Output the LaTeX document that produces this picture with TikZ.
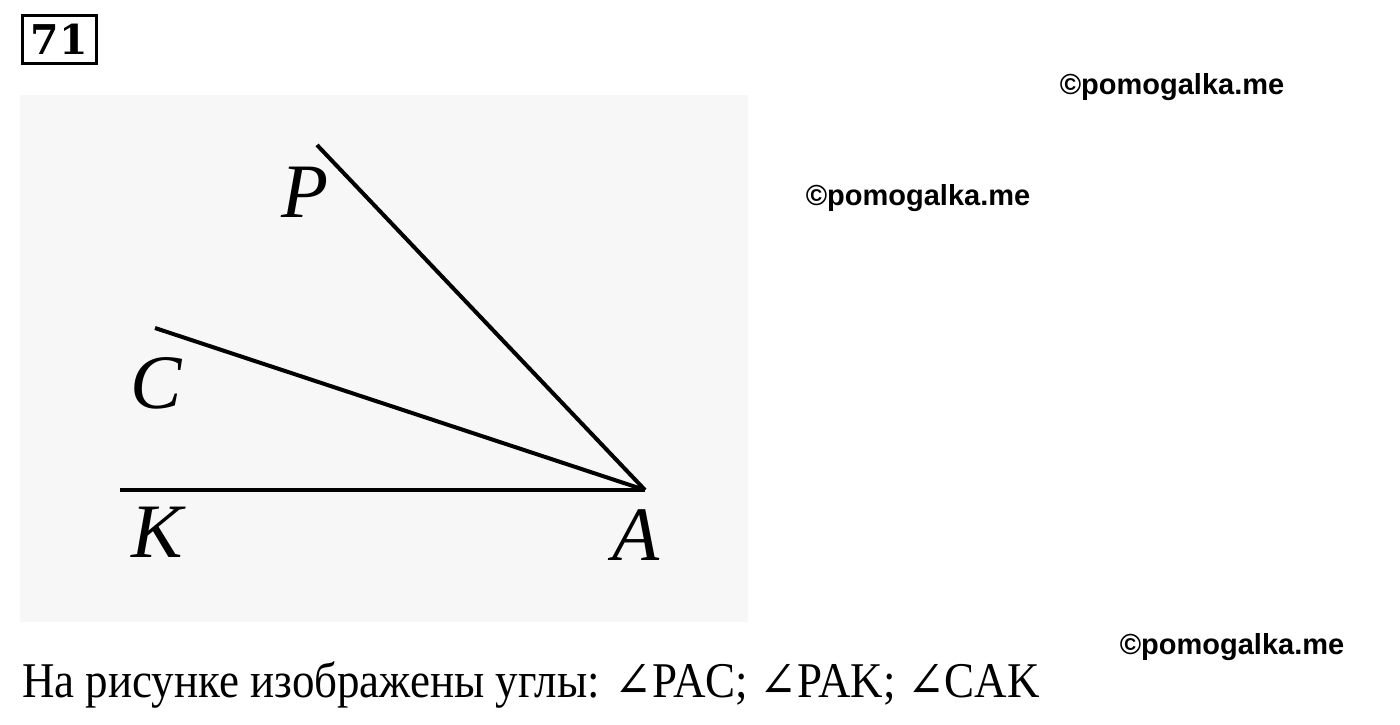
\documentclass[tikz,border=0pt]{standalone}
\usepackage{fontspec}
\setmainfont{Liberation Serif}
\newfontfamily\wmfont{Liberation Sans}
\newfontfamily\capfont[FakeStretch=0.9]{Liberation Serif}
\newfontfamily\angfont[FakeStretch=0.9]{DejaVu Serif}
\newfontfamily\numfont{DejaVu Serif}
\newcommand{\myang}{{\angfont ∠}}
\definecolor{bgray}{HTML}{F7F7F7}
\tikzset{
  ray/.style={line width=4pt, line cap=butt},
  ptlabel/.style={anchor=base, inner sep=0pt, font=\fontsize{77}{77}\selectfont\itshape},
  wmark/.style={anchor=base, inner sep=0pt, font=\fontsize{29}{29}\selectfont\wmfont\bfseries},
}
\begin{document}
\begin{tikzpicture}[x=1pt,y=-1pt]
\useasboundingbox (0,0) rectangle (1400,725);
\fill[white] (0,0) rectangle (1400,725);
\fill[bgray] (20,95) rectangle (748,622);
% number box
\draw[line width=3pt] (22,15.5) rectangle (96,64);
\node[anchor=base, inner sep=0pt, font=\fontsize{41}{41}\selectfont\numfont\bfseries] (num) at (59,55) {71};
% points
\coordinate (A) at (645,490);
\coordinate (P) at (317,145);
\coordinate (C) at (155,328);
\coordinate (K) at (120,490);
\draw[ray] (A) -- (P);
\draw[ray] (A) -- (C);
\draw[ray] (A) -- (K);
\node[ptlabel] (lP) at (305,217) {P};
\node[ptlabel] (lC) at (156,408) {C};
\node[ptlabel] (lK) at (157,557) {K};
\node[ptlabel] (lA) at (636,560) {A};
% watermarks
\node[wmark] (w1) at (1172,94) {©pomogalka.me};
\node[wmark] (w2) at (918,205) {©pomogalka.me};
\node[wmark] (w3) at (1232,654) {©pomogalka.me};
% caption
\node[anchor=base west, inner sep=0pt, font=\fontsize{50}{50}\selectfont\capfont] (cap) at (22,697) {На рисунке изображены углы: \myang PAC; \myang PAK; \myang CAK};
\end{tikzpicture}
\end{document}
